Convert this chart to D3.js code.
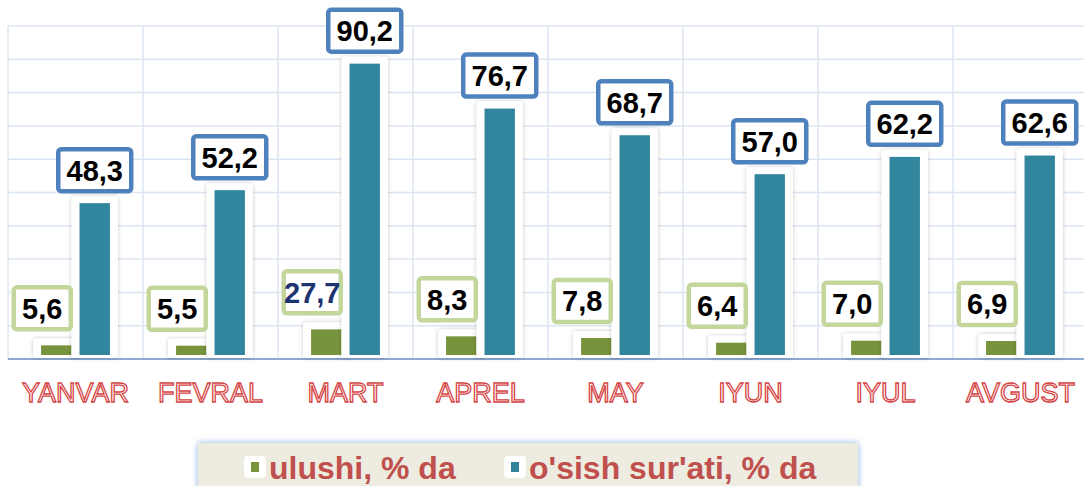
<!DOCTYPE html>
<html>
<head>
<meta charset="utf-8">
<script src="https://cdn.jsdelivr.net/npm/d3@7"></script>
<style>
  body { margin: 0; background: #fff; }
  svg { display: block; font-family: "Liberation Sans", Arial, sans-serif; }
</style>
</head>
<body>
<div id="chart"></div>
<script>
// data
var months = ["YANVAR", "FEVRAL", "MART", "APREL", "MAY", "IYUN", "IYUL", "AVGUST"];
var ulushi = [5.6, 5.5, 27.7, 8.3, 7.8, 6.4, 7.0, 6.9];        // label values
var ulushiBar = [5.6, 5.5, 10.4, 8.3, 7.8, 6.4, 7.0, 6.9];     // bar heights as drawn
var osish = [48.3, 52.2, 90.2, 76.7, 68.7, 57.0, 62.2, 62.6];
var gridTicks = [0, 10, 20, 30, 40, 50, 60, 70, 80, 90, 100];
var seriesNames = ["ulushi, % da", "o'sish sur'ati, % da"];

var width = 1084, height = 486;
var green = "#77933c", teal = "#31859c";

var svg = d3.select("#chart")
  .append("svg")
    .attr("width", width)
    .attr("height", height);

var defs = svg.append("defs");
defs.append("filter").attr("id", "plate").attr("x", "-30%").attr("y", "-10%").attr("width", "160%").attr("height", "120%")
  .append("feDropShadow")
    .attr("dx", 0).attr("dy", 0).attr("stdDeviation", 2)
    .attr("flood-color", "#000").attr("flood-opacity", 0.22);
defs.append("filter").attr("id", "glow").attr("x", "-5%").attr("y", "-30%").attr("width", "110%").attr("height", "160%")
  .append("feDropShadow")
    .attr("dx", 0).attr("dy", 0).attr("stdDeviation", 3)
    .attr("flood-color", "#4f8fd8").attr("flood-opacity", 0.7);

var data = months.map(function(m, i) {
  return { month: m, u: ulushi[i], uBar: ulushiBar[i], o: osish[i] };
});

// scales
var x = d3.scaleBand().domain(months).range([8, 8 + 135 * months.length]);
var x1 = d3.scaleBand().domain(["u", "o"]).range([0, x.bandwidth()]).paddingInner(0.21).paddingOuter(0.86);
var yGrid = d3.scaleLinear().domain([0, 100]).range([359, 26]);   // back wall
var y = d3.scaleLinear().domain([0, 100]).range([364, 31]);       // bars (3d depth offset)
var base = 355;

var fmt = function(v) { return d3.format(".1f")(v).replace(".", ","); };

// grid
var grid = svg.append("g");
grid.selectAll("line.h")
  .data(gridTicks)
  .enter().append("line")
    .attr("x1", x.range()[0]).attr("x2", x.range()[1])
    .attr("y1", function(d) { return yGrid(d); })
    .attr("y2", function(d) { return yGrid(d); })
    .attr("stroke", "#dce6f2").attr("stroke-width", 1.5);
grid.selectAll("line.v")
  .data(months)
  .enter().append("line")
    .attr("x1", function(d) { return x(d); })
    .attr("x2", function(d) { return x(d); })
    .attr("y1", yGrid(100)).attr("y2", yGrid(0))
    .attr("stroke", "#dce6f2").attr("stroke-width", 1.5);
grid.append("line")
  .attr("x1", x.range()[0]).attr("x2", x.range()[1])
  .attr("y1", yGrid(0)).attr("y2", yGrid(0))
  .attr("stroke", "#6f94c8").attr("stroke-width", 1.5);

// bars with white plates behind them
var groups = svg.append("g").selectAll("g")
  .data(data)
  .enter().append("g")
    .attr("transform", function(d) { return "translate(" + x(d.month) + ",0)"; });

[["u", "uBar", green], ["o", "o", teal]].forEach(function(s) {
  groups.append("rect")
    .attr("x", x1(s[0]) - 8)
    .attr("y", function(d) { return y(d[s[1]]) - 7; })
    .attr("width", x1.bandwidth() + 16)
    .attr("height", function(d) { return base + 3 - y(d[s[1]]) + 7; })
    .attr("rx", 3)
    .attr("fill", "#fff")
    .attr("filter", "url(#plate)");
  groups.append("rect")
    .attr("x", x1(s[0]))
    .attr("y", function(d) { return y(d[s[1]]); })
    .attr("width", x1.bandwidth())
    .attr("height", function(d) { return base - y(d[s[1]]); })
    .attr("fill", s[2]);
});

// value labels
function addLabel(sel, opts) {
  var g = sel.append("g")
    .attr("transform", function(d) {
      var cx = x1(opts.key) + x1.bandwidth() / 2 + opts.dx;
      var by = y(d[opts.bar]) - opts.gap;
      return "translate(" + cx + "," + (by - 23) + ")";
    });
  g.append("rect")
    .attr("x", -opts.w / 2).attr("y", -21)
    .attr("width", opts.w).attr("height", 42)
    .attr("rx", 3)
    .attr("fill", "#fff")
    .attr("stroke", opts.stroke).attr("stroke-width", 4.5);
  g.append("text")
    .attr("text-anchor", "middle")
    .attr("dy", "0.36em")
    .attr("font-size", 29).attr("font-weight", "bold")
    .attr("fill", function(d) { return d.month === "MART" && opts.key === "u" ? "#1c3370" : "#000"; })
    .text(function(d) { return fmt(d[opts.key]); });
}
addLabel(groups, { key: "o", bar: "o", dx: 0, gap: 10, w: 73, stroke: "#4f81bd" });
addLabel(groups, { key: "u", bar: "uBar", dx: -14, gap: 14, w: 57, stroke: "#c3d69b" });

// month labels (outlined red text)
svg.append("g").selectAll("text")
  .data(months)
  .enter().append("text")
    .attr("x", function(d) { return x(d) + x.bandwidth() / 2; })
    .attr("y", 402)
    .attr("text-anchor", "middle")
    .attr("font-size", 27)
    .attr("fill", "#fff")
    .attr("stroke", "#d64545").attr("stroke-width", 1.3)
    .text(function(d) { return d; });

// legend
var legend = svg.append("g");
legend.append("rect")
  .attr("x", 198).attr("y", 443).attr("width", 660).attr("height", 60)
  .attr("fill", "#eeebe0")
  .attr("filter", "url(#glow)");

var items = [
  { name: seriesNames[0], color: green, x: 244 },
  { name: seriesNames[1], color: teal, x: 504 }
];
var li = legend.selectAll("g.item")
  .data(items)
  .enter().append("g")
    .attr("transform", function(d) { return "translate(" + d.x + ",467)"; });
li.append("rect")
  .attr("x", 0).attr("y", -11).attr("width", 22).attr("height", 22).attr("rx", 4)
  .attr("fill", "#fff");
li.append("rect")
  .attr("x", 7).attr("y", -5).attr("width", 8).attr("height", 10)
  .attr("fill", function(d) { return d.color; });
li.append("text")
  .attr("x", 25).attr("dy", "0.36em")
  .attr("font-size", 32).attr("font-weight", "bold")
  .attr("fill", "#c0504d")
  .text(function(d) { return d.name; });
</script>
</body>
</html>
